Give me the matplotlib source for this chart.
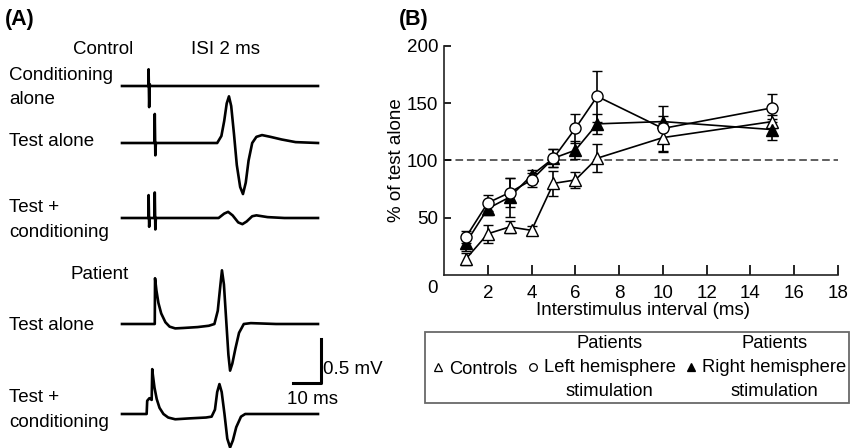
import matplotlib.pyplot as plt
from matplotlib.lines import Line2D

plt.rcParams['font.family'] = ['Liberation Sans', 'DejaVu Sans']
plt.rcParams['font.size'] = 13.5

# --- panel A: EMG traces (time in ms, amplitude in mV relative to baseline) ---
t_cond_alone = [0, 9.4, 9.5, 9.7, 9.9, 10.1, 70]
v_cond_alone = [0, 0, 0.19, -0.24, 0.02, 0, 0]

t_test_alone = [0, 11.6, 11.7, 11.9, 12.1, 34.0, 35.5, 36.5, 37.4, 38.2, 39.0, 40.0,
                41.0, 42.2, 43.2, 44.2, 45.2, 46.5, 48.0, 50.0, 53, 57, 62, 70]
v_test_alone = [0, 0, 0.33, -0.14, 0, 0, 0.08, 0.25, 0.45, 0.53, 0.42, 0.1,
                -0.25, -0.5, -0.58, -0.45, -0.2, 0.0, 0.07, 0.09, 0.07, 0.04, 0.01, 0]

t_test_cond = [0, 9.4, 9.5, 9.7, 9.9, 11.6, 11.7, 11.9, 12.1, 34.5, 36.5, 37.9, 39.5,
               41.5, 43.0, 44.5, 46.5, 48.0, 52, 58, 70]
v_test_cond = [0, 0, 0.26, -0.1, 0, 0, 0.29, -0.13, 0, 0, 0.05, 0.07, 0.03,
               -0.05, -0.07, -0.04, 0.02, 0.03, 0.01, 0, 0]

t_pat_test = [0, 11.7, 11.8, 12.3, 13.0, 14.0, 15.5, 17.0, 19.0, 22, 27, 31, 33, 34.2,
              35.0, 35.7, 36.4, 37.2, 38.0, 38.6, 39.4, 40.5, 41.8, 43.5, 46, 55, 70]
v_pat_test = [0, 0, 0.52, 0.38, 0.24, 0.12, 0.02, -0.03, -0.05, -0.045, -0.035, -0.02, 0.0, 0.15,
              0.4, 0.61, 0.45, 0.05, -0.35, -0.53, -0.45, -0.28, -0.1, 0.0, 0.01, 0.0, 0]

t_pat_cond = [0, 8.8, 9.0, 9.8, 10.6, 10.8, 11.0, 11.6, 12.4, 13.4, 14.8, 16.5, 19, 24, 30,
              32.0, 33.2, 34.0, 34.8, 35.6, 36.6, 37.6, 38.6, 39.6, 40.8, 42.5, 44, 50, 70]
v_pat_cond = [0, 0, 0.15, 0.18, 0.16, 0.51, 0.45, 0.3, 0.17, 0.07, 0.0, -0.04, -0.06, -0.05, -0.04,
              -0.03, 0.05, 0.25, 0.34, 0.25, 0.0, -0.28, -0.38, -0.3, -0.15, -0.03, 0.0, 0.0, 0]

scale_ms = 10
scale_mv = 0.5

# --- panel B: % of test alone vs interstimulus interval ---
isi = [1, 2, 3, 4, 5, 6, 7, 10, 15]
controls = [14, 36, 42, 39, 80, 83, 102, 120, 134]
controls_err = [5, 8, 5, 4, 11, 7, 12, 13, 6]
left_hemi = [33, 63, 72, 83, 102, 128, 156, 128, 146]
left_hemi_err = [5, 7, 13, 6, 8, 13, 22, 20, 12]
right_hemi = [28, 58, 68, 87, 102, 109, 132, 134, 127]
right_hemi_err = [7, 6, 17, 5, 8, 8, 9, 5, 9]
reference_pct = 100

W, H = 860, 448
fig = plt.figure(figsize=(W / 100, H / 100), dpi=100)


def fx(px):
    return px / W


def fy(py):
    return 1 - py / H


# ---------------- panel A ----------------
MS_PX, MV_PX = 2.8, 88.0
axA = fig.add_axes([fx(122), 0, fx(342) - fx(122), 1])
axA.set_xlim(0, 220 / MS_PX)
axA.set_ylim(-H / MV_PX, 0)
axA.axis('off')

traces = [(t_cond_alone, v_cond_alone), (t_test_alone, v_test_alone),
          (t_test_cond, v_test_cond), (t_pat_test, v_pat_test), (t_pat_cond, v_pat_cond)]
baselines_px = [86, 143, 218, 324, 414]
for (t, v), b in zip(traces, baselines_px):
    axA.plot(t, [y - b / MV_PX for y in v], color='black', lw=1.9,
             solid_joinstyle='round', clip_on=False)

# scale bar
sx, sy = (321 - 122) / MS_PX, -383 / MV_PX
axA.plot([sx - scale_ms, sx, sx], [sy, sy, sy + scale_mv], color='black', lw=2.2)
fig.text(fx(323), fy(369), f"{scale_mv} mV", ha='left', va='center')
fig.text(fx(287), fy(399), f"{scale_ms} ms", ha='left', va='center')

fig.text(fx(5), fy(20), "(A)", ha='left', va='center', fontweight='bold', fontsize=15.5)
fig.text(fx(103), fy(49), "Control", ha='center', va='center')
fig.text(fx(225), fy(49), "ISI 2 ms", ha='center', va='center')
for s, y in [("Conditioning", 75), ("alone", 99), ("Test alone", 142), ("Test +", 207),
             ("conditioning", 232), ("Test alone", 325), ("Test +", 397),
             ("conditioning", 422)]:
    fig.text(fx(9), fy(y), s, ha='left', va='center')
fig.text(fx(100), fy(274), "Patient", ha='center', va='center')

# ---------------- panel B ----------------
axB = fig.add_axes([fx(444), fy(275), fx(838) - fx(444), fy(46) - fy(275)])
axB.set_xlim(0, 18)
axB.set_ylim(0, 200)
for side in ['top', 'right']:
    axB.spines[side].set_visible(False)
for side in ['left', 'bottom']:
    axB.spines[side].set_linewidth(1.2)
    axB.spines[side].set_color('#222222')

axB.axhline(reference_pct, color='#333333', lw=1.1, ls=(0, (5, 2.5)), zorder=1)

series = [
    (controls, controls_err, dict(marker='^', mfc='white', ms=9)),
    (right_hemi, right_hemi_err, dict(marker='^', mfc='black', ms=9)),
    (left_hemi, left_hemi_err, dict(marker='o', mfc='white', ms=8)),
]
for y, e, st in series:
    axB.errorbar(isi, y, yerr=e, color='black', lw=1.2, elinewidth=1.2, capsize=3.8,
                 capthick=1.2, mec='black', mew=1.0, zorder=3, **st)

axB.set_xticks(range(2, 19, 2))
axB.set_yticks([50, 100, 150, 200])
axB.tick_params(axis='x', direction='in', length=7, width=1.2, pad=7, labelsize=13.5)
axB.tick_params(axis='y', direction='in', length=5, width=1.2, pad=4, labelsize=13.5)
axB.annotate("0", xy=(0, 0), xycoords='data', xytext=(-8, -10), textcoords='offset points',
             ha='center', va='center', fontsize=13.5)

axB.set_xlabel("Interstimulus interval (ms)", fontsize=13.5)
axB.xaxis.set_label_coords(0.505, -0.118)
axB.set_ylabel("% of test alone", fontsize=13.5)
axB.yaxis.set_label_coords(-0.098, 0.5)

fig.text(fx(399), fy(19), "(B)", ha='left', va='center', fontweight='bold', fontsize=15.5)

handles = [
    Line2D([], [], ls='none', marker='^', mfc='white', mec='black', ms=5.5, mew=0.9),
    Line2D([], [], ls='none', marker='o', mfc='white', mec='black', ms=5.5, mew=0.9),
    Line2D([], [], ls='none', marker='^', mfc='black', mec='black', ms=5.5, mew=0.9),
]
labels = ["Controls", "Patients\nLeft hemisphere\nstimulation",
          "Patients\nRight hemisphere\nstimulation"]
leg = fig.legend(handles, labels, loc='upper left', bbox_to_anchor=(fx(425), fy(332)),
                 ncol=3, fontsize=13.2, frameon=True, fancybox=False, edgecolor='#444444',
                 handlelength=1.1, handletextpad=0.05, columnspacing=0.3, borderpad=0.15,
                 borderaxespad=0)
leg.get_frame().set_linewidth(1.3)
for t in leg.get_texts():
    t.set_multialignment('center')
    t.set_linespacing(1.55)

fig.savefig("out.png", dpi=100)
